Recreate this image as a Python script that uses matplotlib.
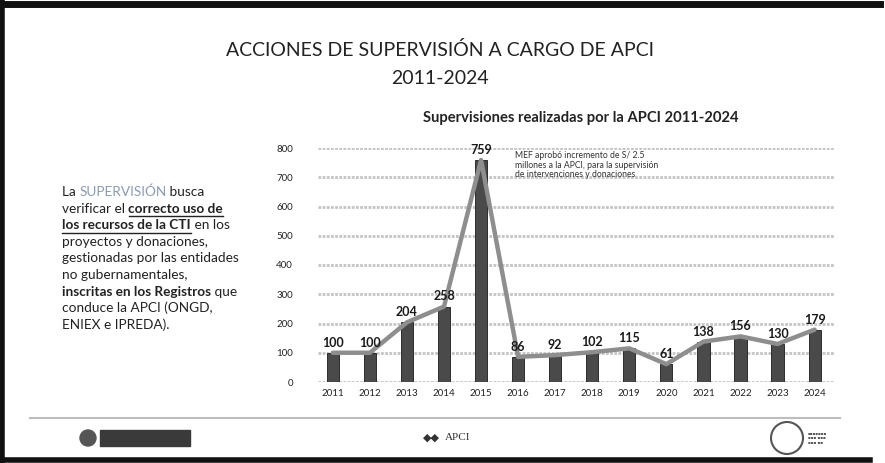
import matplotlib
matplotlib.use("Agg")
import matplotlib.pyplot as plt
from matplotlib.patches import Rectangle, Ellipse
from matplotlib.lines import Line2D

# data
years = list(range(2011, 2025))
supervisions = [100, 100, 204, 258, 759, 86, 92, 102, 115, 61, 138, 156, 130, 179]
y_ticks = [0, 100, 200, 300, 400, 500, 600, 700, 800]

title_1 = "ACCIONES DE SUPERVISIÓN A CARGO DE APCI"
title_2 = "2011-2024"
chart_title = "Supervisiones realizadas por la APCI 2011-2024"
note = ("MEF aprobó incremento de S/ 2.5\n"
        "millones a la APCI, para la supervisión\n"
        "de intervenciones y donaciones")

# left paragraph, one list of (text, style) per line
paragraph = [
    [("La ", "n"), ("SUPERVISIÓN", "hl"), (" busca", "n")],
    [("verificar el ", "n"), ("correcto uso de", "bu")],
    [("los recursos de la CTI", "bu"), (" en los", "n")],
    [("proyectos y donaciones,", "n")],
    [("gestionadas por las entidades", "n")],
    [("no gubernamentales,", "n")],
    [("inscritas en los Registros", "b"), (" que", "n")],
    [("conduce la APCI (ONGD,", "n")],
    [("ENIEX e IPREDA).", "n")],
]

plt.rcParams["font.family"] = ["Lato", "DejaVu Sans"]

W, H = 885, 463
fig = plt.figure(figsize=(W / 100, H / 100), dpi=100)
fig.patch.set_facecolor("white")


def fx(px):
    return px / W


def fy(py):
    return 1 - py / H


# slide frame
fig.add_artist(Line2D([fx(2), fx(2)], [0, 1], color="#111111", lw=4))
fig.add_artist(Line2D([0, fx(880)], [fy(4), fy(4)], color="#111111", lw=5))
fig.add_artist(Line2D([0, fx(870)], [fy(460), fy(460)], color="#111111", lw=4))

# titles
fig.text(fx(440), fy(50), title_1, ha="center", va="center", fontsize=14, color="#222222")
fig.text(fx(440), fy(79), title_2, ha="center", va="center", fontsize=14, color="#222222")
fig.text(fx(581), fy(118), chart_title, ha="center", va="center", fontsize=10.6,
         fontweight="bold", color="#222222")

# chart
ax = fig.add_axes([fx(318), fy(382), fx(835) - fx(318), fy(148) - fy(382)])
ax.bar(years, supervisions, width=0.33, color="#4a4a4a", edgecolor="#1a1a1a", lw=0.6, zorder=2)
ax.plot(years, supervisions, color="#8e8e8e", lw=3.2, zorder=3, solid_capstyle="round")
for x, v in zip(years, supervisions):
    ax.text(x, v + 14, str(v), ha="center", va="bottom", fontsize=9, fontweight="bold",
            color="#1a1a1a", zorder=4)
ax.set_ylim(0, 800)
ax.set_xlim(2010.6, 2024.55)
ax.set_yticks(y_ticks)
ax.set_xticks(years)
ax.set_xticklabels([str(y) for y in years])
ax.tick_params(length=0, labelsize=7, colors="#222222")
ax.tick_params(axis="y", pad=18)
ax.tick_params(axis="x", pad=5)
ax.grid(axis="y", color="#c4c4c4", lw=2, ls=(0, (1, 0.5)))
ax.set_axisbelow(True)
for s in ax.spines.values():
    s.set_visible(False)
ax.text(2015.92, 790, note, ha="left", va="top", fontsize=6.2, color="#333333", linespacing=1.1)

# left paragraph, placed segment by segment
fig.canvas.draw()
renderer = fig.canvas.get_renderer()
x0, y0, step = 62, 192, 16.6
for i, line in enumerate(paragraph):
    x = x0
    for txt, style in line:
        kw = dict(fontsize=9.8, color="#222222", va="center", ha="left")
        if style in ("b", "bu"):
            kw["fontweight"] = "bold"
        if style == "hl":
            kw["color"] = "#8a9bb5"
        t = fig.text(fx(x), fy(y0 + i * step), txt, **kw)
        bb = t.get_window_extent(renderer)
        if style == "bu":
            fig.add_artist(Line2D([fx(x), fx(x + bb.width)],
                                  [fy(y0 + i * step + 7.5), fy(y0 + i * step + 7.5)],
                                  color="#222222", lw=1))
        x += bb.width

# footer
fig.add_artist(Line2D([fx(30), fx(840)], [fy(418), fy(418)], color="#bdbdbd", lw=1.5))
fig.add_artist(Ellipse((fx(88), fy(438)), fx(16), 16 / H, transform=fig.transFigure,
                       color="#555555"))
fig.add_artist(Rectangle((fx(100), fy(446)), fx(90), fy(430) - fy(446),
                         transform=fig.transFigure, color="#3a3a3a"))
fig.text(fx(445), fy(438), "APCI", ha="left", va="center", fontsize=8, color="#333333",
         family="Liberation Serif")
fig.text(fx(440), fy(438), "◆◆", ha="right", va="center", fontsize=8, color="#333333",
         family="DejaVu Sans")
fig.add_artist(Ellipse((fx(787), fy(438)), fx(32), 32 / H, transform=fig.transFigure,
                       fill=False, ec="#555555", lw=1.5))
fig.text(fx(808), fy(438), "▪▪▪▪▪▪▪\n▪▪▪ ▪▪▪\n▪▪▪ ▪▪", ha="left", va="center", fontsize=3,
         color="#555555", family="DejaVu Sans")

fig.savefig("out.png", dpi=100)
